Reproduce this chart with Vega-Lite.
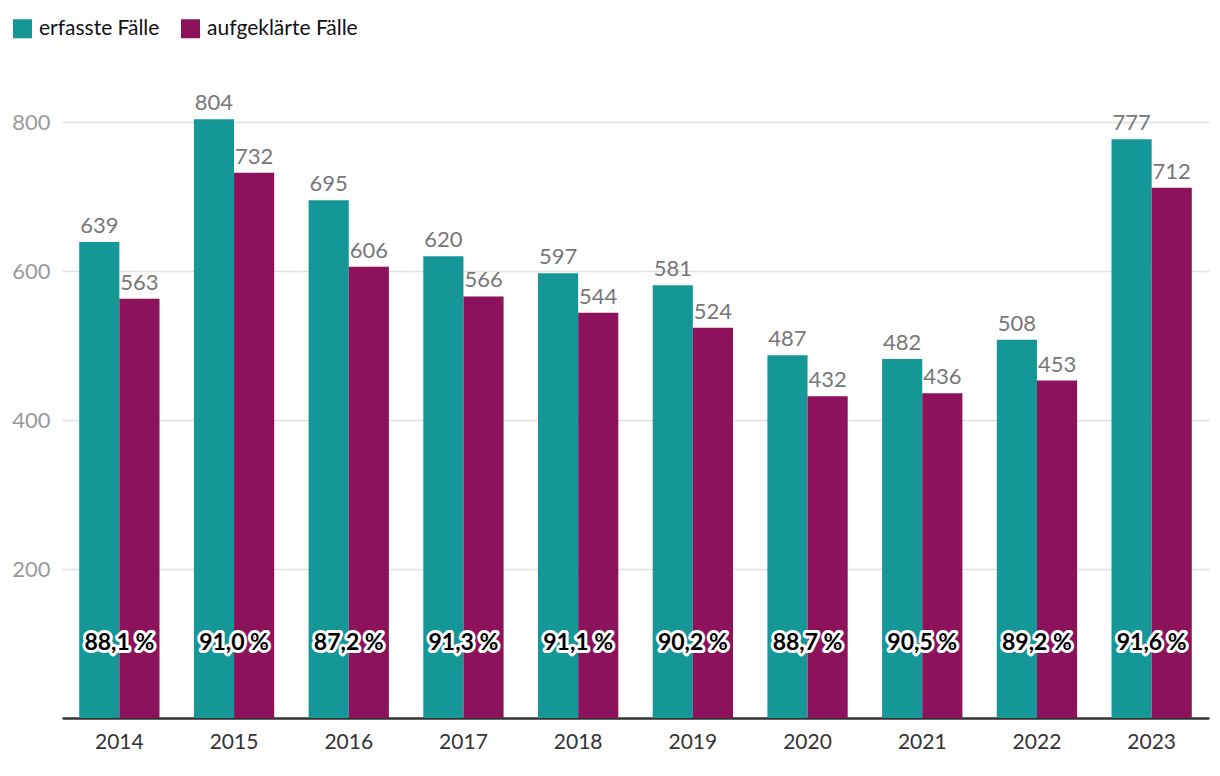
{
  "$schema": "https://vega.github.io/schema/vega-lite/v6.json",
  "autosize": {"type": "none"},
  "width": 1147,
  "height": 648,
  "padding": {"left": 62, "top": 70, "right": 11, "bottom": 58},
  "config": {
    "font": "Lato",
    "view": {"stroke": null}
  },
  "datasets": {
    "bars": [
      {"year": "2014", "serie": "erfasste Fälle", "wert": 639},
      {"year": "2014", "serie": "aufgeklärte Fälle", "wert": 563},
      {"year": "2015", "serie": "erfasste Fälle", "wert": 804},
      {"year": "2015", "serie": "aufgeklärte Fälle", "wert": 732},
      {"year": "2016", "serie": "erfasste Fälle", "wert": 695},
      {"year": "2016", "serie": "aufgeklärte Fälle", "wert": 606},
      {"year": "2017", "serie": "erfasste Fälle", "wert": 620},
      {"year": "2017", "serie": "aufgeklärte Fälle", "wert": 566},
      {"year": "2018", "serie": "erfasste Fälle", "wert": 597},
      {"year": "2018", "serie": "aufgeklärte Fälle", "wert": 544},
      {"year": "2019", "serie": "erfasste Fälle", "wert": 581},
      {"year": "2019", "serie": "aufgeklärte Fälle", "wert": 524},
      {"year": "2020", "serie": "erfasste Fälle", "wert": 487},
      {"year": "2020", "serie": "aufgeklärte Fälle", "wert": 432},
      {"year": "2021", "serie": "erfasste Fälle", "wert": 482},
      {"year": "2021", "serie": "aufgeklärte Fälle", "wert": 436},
      {"year": "2022", "serie": "erfasste Fälle", "wert": 508},
      {"year": "2022", "serie": "aufgeklärte Fälle", "wert": 453},
      {"year": "2023", "serie": "erfasste Fälle", "wert": 777},
      {"year": "2023", "serie": "aufgeklärte Fälle", "wert": 712}
    ],
    "quote": [
      {"year": "2014", "quote": "88,1 %"},
      {"year": "2015", "quote": "91,0 %"},
      {"year": "2016", "quote": "87,2 %"},
      {"year": "2017", "quote": "91,3 %"},
      {"year": "2018", "quote": "91,1 %"},
      {"year": "2019", "quote": "90,2 %"},
      {"year": "2020", "quote": "88,7 %"},
      {"year": "2021", "quote": "90,5 %"},
      {"year": "2022", "quote": "89,2 %"},
      {"year": "2023", "quote": "91,6 %"}
    ]
  },
  "encoding": {
    "x": {
      "field": "year",
      "type": "nominal",
      "scale": {"paddingInner": 0.3, "paddingOuter": 0.15},
      "axis": {
        "title": null,
        "labelAngle": 0,
        "labelFontSize": 21,
        "labelColor": "#333333",
        "labelPadding": 13,
        "ticks": false,
        "domainColor": "#333333",
        "domainWidth": 2.5
      }
    }
  },
  "layer": [
    {
      "data": {"name": "bars"},
      "mark": {"type": "bar"},
      "encoding": {
        "xOffset": {"field": "serie", "type": "nominal", "sort": ["erfasste Fälle", "aufgeklärte Fälle"], "scale": {"paddingInner": 0, "paddingOuter": 0}},
        "y": {
          "field": "wert",
          "type": "quantitative",
          "scale": {"domain": [0, 870], "nice": false},
          "axis": {
            "title": null,
            "values": [200, 400, 600, 800],
            "labelFontSize": 22,
            "labelColor": "#9a9a9a",
            "labelPadding": 12,
            "ticks": false,
            "domain": false,
            "gridColor": "#e0e0e0",
            "gridWidth": 1.5
          }
        },
        "color": {
          "field": "serie",
          "type": "nominal",
          "sort": ["erfasste Fälle", "aufgeklärte Fälle"],
          "scale": {"domain": ["erfasste Fälle", "aufgeklärte Fälle"], "range": ["#169797", "#8c125c"]},
          "legend": {
            "title": null,
            "orient": "none",
            "direction": "horizontal",
            "legendX": -50,
            "legendY": -52,
            "symbolType": "square",
            "symbolSize": 361,
            "symbolStrokeWidth": 0,
            "symbolOpacity": 1,
            "labelFontSize": 21,
            "labelColor": "#111111",
            "labelOffset": 6,
            "columnPadding": 20
          }
        }
      }
    },
    {
      "data": {"name": "bars"},
      "mark": {"type": "text", "baseline": "bottom", "dy": -4, "fontSize": 22, "color": "#777777"},
      "encoding": {
        "xOffset": {"field": "serie", "type": "nominal", "sort": ["erfasste Fälle", "aufgeklärte Fälle"]},
        "y": {"field": "wert", "type": "quantitative"},
        "text": {"field": "wert", "type": "quantitative"}
      }
    },
    {
      "data": {"name": "quote"},
      "mark": {"type": "text", "baseline": "middle", "fontSize": 23, "fontWeight": "bold", "color": "white", "stroke": "white", "strokeWidth": 6, "strokeJoin": "round"},
      "encoding": {
        "y": {"datum": 101},
        "text": {"field": "quote"}
      }
    },
    {
      "data": {"name": "quote"},
      "mark": {"type": "text", "baseline": "middle", "fontSize": 23, "fontWeight": "bold", "color": "#000000"},
      "encoding": {
        "y": {"datum": 101},
        "text": {"field": "quote"}
      }
    }
  ]
}
